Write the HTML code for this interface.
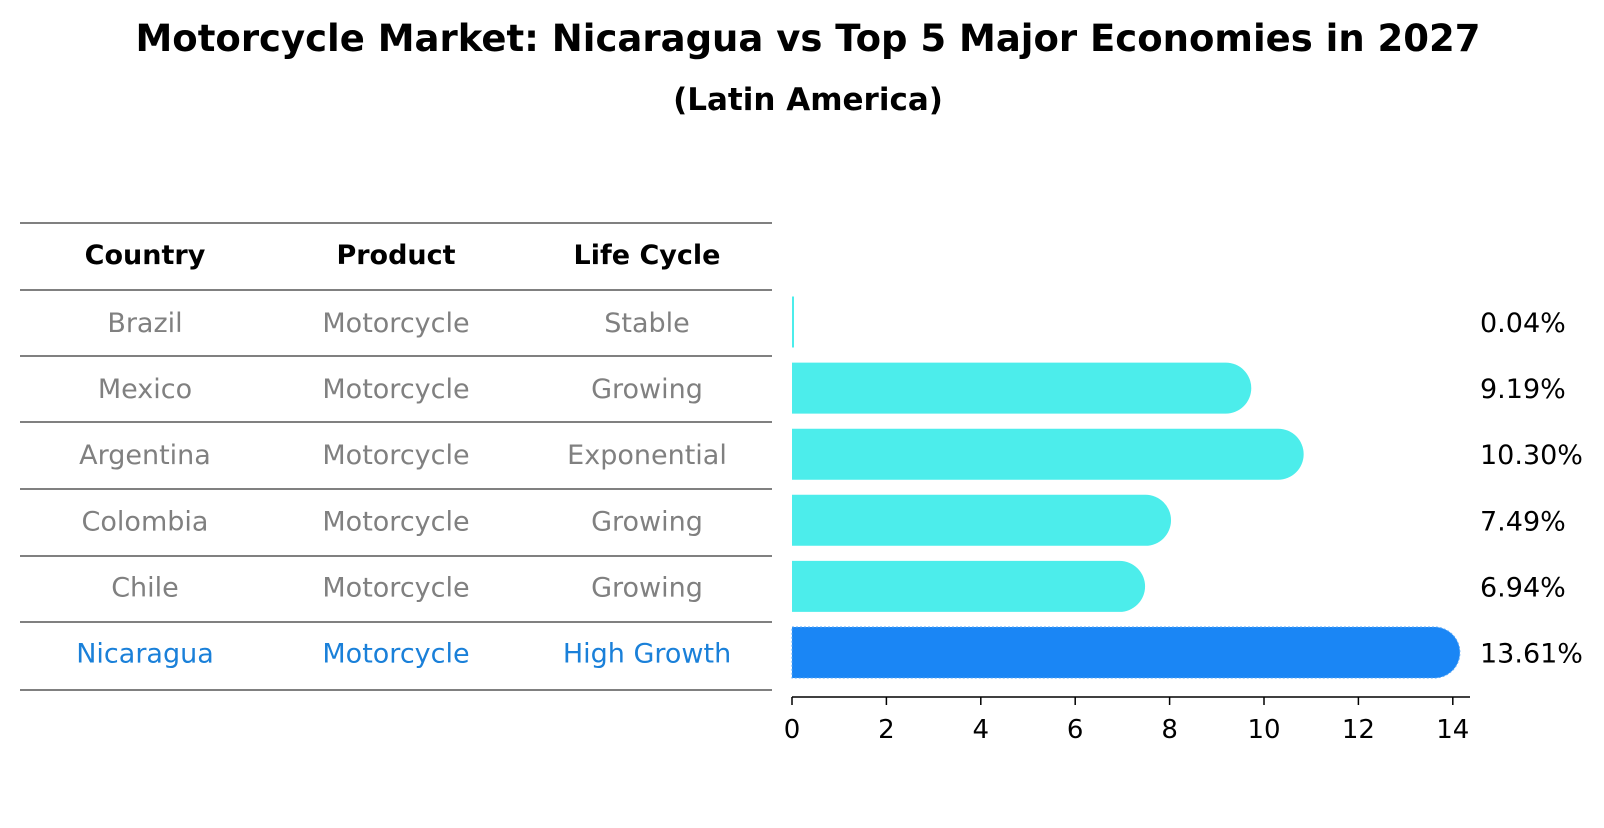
<!DOCTYPE html>
<html><head><meta charset="utf-8"><style>
body{margin:0;background:#fff;font-family:"Liberation Sans","DejaVu Sans",sans-serif;}
svg text{font-family:"DejaVu Sans","Liberation Sans",sans-serif;}
</style></head><body>
<svg id="c" width="1604" height="823" xmlns="http://www.w3.org/2000/svg">
<text x="808" y="51" text-anchor="middle" font-size="37" font-weight="bold">Motorcycle Market: Nicaragua vs Top 5 Major Economies in 2027</text>
<text x="808" y="110" text-anchor="middle" font-size="31" font-weight="bold">(Latin America)</text>
<g id="table"></g>
<g id="bars"></g>
<g id="axis"></g>
</svg>
<script>
const countries=["Brazil","Mexico","Argentina","Colombia","Chile","Nicaragua"];
const products=["Motorcycle","Motorcycle","Motorcycle","Motorcycle","Motorcycle","Motorcycle"];
const lifeCycles=["Stable","Growing","Exponential","Growing","Growing","High Growth"];
const values=[0.04,9.19,10.30,7.49,6.94,13.61];
const ticks=[0,2,4,6,8,10,12,14];
const NS="http://www.w3.org/2000/svg";
const x0=792,unit=47.2;
const X=v=>x0+v*unit;
const rowY=i=>322+i*66.1;
function mk(tag,attrs,parent,text){const e=document.createElementNS(NS,tag);for(const k in attrs)e.setAttribute(k,attrs[k]);if(text!==undefined)e.textContent=text;parent.appendChild(e);return e;}
const T=document.getElementById('table'),B=document.getElementById('bars'),A=document.getElementById('axis');
const lines=[223,290,356,422,489,556,622,690];
lines.forEach(y=>{const l=mk('line',{x1:20,x2:772,y1:y,y2:y,stroke:'#000','stroke-width':1},T);

});
const cx=[145,396,647];
["Country","Product","Life Cycle"].forEach((h,j)=>{const t=mk('text',{x:cx[j],y:264,'text-anchor':'middle','font-size':27,'font-weight':'bold'},T,h);

});
countries.forEach((c,i)=>{
 const col=i===5?'#1a80d9':'#808080';
 [c,products[i],lifeCycles[i]].forEach((s,j)=>{const t=mk('text',{x:cx[j],y:rowY(i)+10,'text-anchor':'middle','font-size':27,fill:col},T,s);
 
 });
 const v=values[i],y=rowY(i),h=51,r=25.5,xe=X(v);
 const color=i===5?'#1a86f5':'#4cedeb';
 let d;
 if(v<0.5){d=`M${x0},${y-h/2}h2v${h}h-2z`;}
 else d=`M${x0},${y-h/2}H${xe}A${r},${r} 0 0 1 ${xe},${y+h/2}H${x0}Z`;
 const p=mk('path',{d:d,fill:color},B);
 if(i===5){p.setAttribute('stroke','#5aa8f7');p.setAttribute('stroke-dasharray','2,2');}
 
 
 const t=mk('text',{x:1480,y:y+10,'font-size':27},B,v.toFixed(2)+'%');
 
 
});
const al=mk('line',{x1:x0,x2:1470,y1:697,y2:697,stroke:'#000','stroke-width':1.5},A);


ticks.forEach(t=>{const l=mk('line',{x1:X(t),x2:X(t),y1:697,y2:705,stroke:'#000','stroke-width':1.5},A);


const tx=mk('text',{x:X(t),y:738,'text-anchor':'middle','font-size':26},A,String(t));

});
</script>
</body></html>
